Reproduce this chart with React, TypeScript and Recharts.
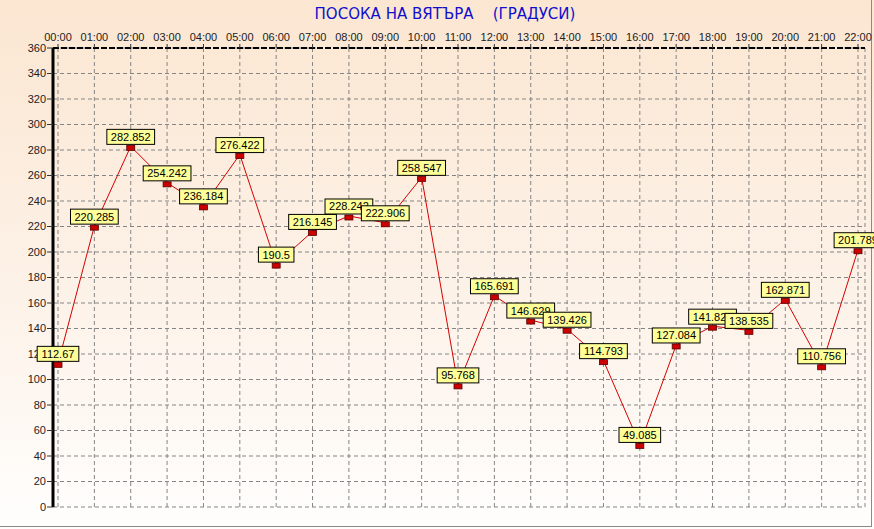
import React from "react";
import {
  LineChart,
  Line,
  XAxis,
  YAxis,
  CartesianGrid,
  LabelList,
} from "recharts";

const hours = [
  "00:00", "01:00", "02:00", "03:00", "04:00", "05:00", "06:00", "07:00",
  "08:00", "09:00", "10:00", "11:00", "12:00", "13:00", "14:00", "15:00",
  "16:00", "17:00", "18:00", "19:00", "20:00", "21:00", "22:00",
];
const directions = [
  112.67, 220.285, 282.852, 254.242, 236.184, 276.422, 190.5, 216.145,
  228.242, 222.906, 258.547, 95.768, 165.691, 146.629, 139.426, 114.793,
  49.085, 127.084, 141.823, 138.535, 162.871, 110.756, 201.789,
];
const yTicks = [0, 20, 40, 60, 80, 100, 120, 140, 160, 180, 200, 220, 240, 260, 280, 300, 320, 340, 360];
const title = "ПОСОКА НА ВЯТЪРА    (ГРАДУСИ)";

const data = hours.map((h, i) => ({ time: h, value: directions[i] }));

const FONT = "'Liberation Sans', Arial, sans-serif";

const textWidth = (s: string, size: number) => {
  let w = 0;
  for (const c of s) {
    if (c === ".") w += 0.278 * size;
    else w += 0.556 * size;
  }
  return w;
};

const Marker = (p: any) => {
  const { cx, cy, index } = p;
  if (cx == null || cy == null) return <g key={index} />;
  return (
    <rect
      key={index}
      x={cx - 4}
      y={cy - 1}
      width={8}
      height={5}
      fill="#CC0000"
      stroke="#5a0000"
      strokeWidth={0.8}
    />
  );
};

const ValueLabel = (p: any) => {
  const { x, y, value, index } = p;
  if (x == null || y == null) return null;
  const s = String(value);
  const fs = 11;
  const w = textWidth(s, fs) + 8;
  const h = 15;
  return (
    <g key={index}>
      <rect
        x={x - w / 2}
        y={y - 2 - h}
        width={w}
        height={h}
        fill="#FFFF99"
        stroke="#000"
        strokeWidth={1}
      />
      <text
        x={x}
        y={y - 2 - h + 11.5}
        textAnchor="middle"
        fontSize={fs}
        fontFamily={FONT}
        fill="#000"
      >
        {s}
      </text>
    </g>
  );
};

export default function App() {
  return (
    <div
      style={{
        position: "absolute",
        left: 0,
        top: 0,
        width: 874,
        height: 529,
        background: "linear-gradient(to bottom, #FBE6D1 0%, #FDF3EA 60%, #FFFEFD 100%)",
        overflow: "hidden",
      }}
    >
      <div
        style={{
          position: "absolute",
          left: 0,
          width: 890,
          top: 5,
          textAlign: "center",
          fontFamily: "'DejaVu Sans', Verdana, sans-serif",
          fontSize: 15,
          color: "#1010CC",
          whiteSpace: "pre",
        }}
      >
        {title}
      </div>
      <div
        style={{
          position: "absolute",
          left: 0,
          top: 0,
          width: 871,
          height: 526,
          borderRight: "1px solid #8a8a8a",
          borderBottom: "1px solid #8a8a8a",
          pointerEvents: "none",
        }}
      />
      <LineChart
        width={874}
        height={529}
        data={data}
        margin={{ top: 28, right: 9, bottom: 22, left: 8 }}
        style={{ position: "absolute", left: 0, top: 0 }}
      >
        <CartesianGrid stroke="#858585" strokeDasharray="4 3" />
        <XAxis
          dataKey="time"
          orientation="top"
          height={20}
          padding={{ left: 5, right: 7 }}
          interval={0}
          tickSize={4}
          tickMargin={3}
          tick={{ fontSize: 11, fontFamily: FONT, fill: "#222" }}
          tickLine={{ stroke: "#333" }}
          axisLine={{ stroke: "#000", strokeWidth: 2, strokeDasharray: "6 2" }}
        />
        <XAxis
          xAxisId="bottom"
          dataKey="time"
          orientation="bottom"
          height={0}
          padding={{ left: 5, right: 7 }}
          tick={false}
          tickLine={false}
          axisLine={{ stroke: "#000", strokeWidth: 1, strokeDasharray: "4 2" }}
        />
        <YAxis
          domain={[0, 360]}
          ticks={yTicks}
          interval={0}
          width={45}
          tickSize={6}
          tickMargin={1}
          tick={{ fontSize: 11, fontFamily: FONT, fill: "#222" }}
          tickLine={{ stroke: "#333" }}
          axisLine={{ stroke: "#000", strokeWidth: 3 }}
        />
        <YAxis
          yAxisId="right"
          orientation="right"
          domain={[0, 360]}
          width={0}
          tick={false}
          tickLine={false}
          axisLine={{ stroke: "#000", strokeWidth: 1 }}
        />
        <Line
          type="linear"
          dataKey="value"
          stroke="#D40000"
          strokeWidth={1}
          dot={Marker}
          activeDot={false}
          isAnimationActive={false}
        >
          <LabelList dataKey="value" content={ValueLabel} />
        </Line>
      </LineChart>
    </div>
  );
}
